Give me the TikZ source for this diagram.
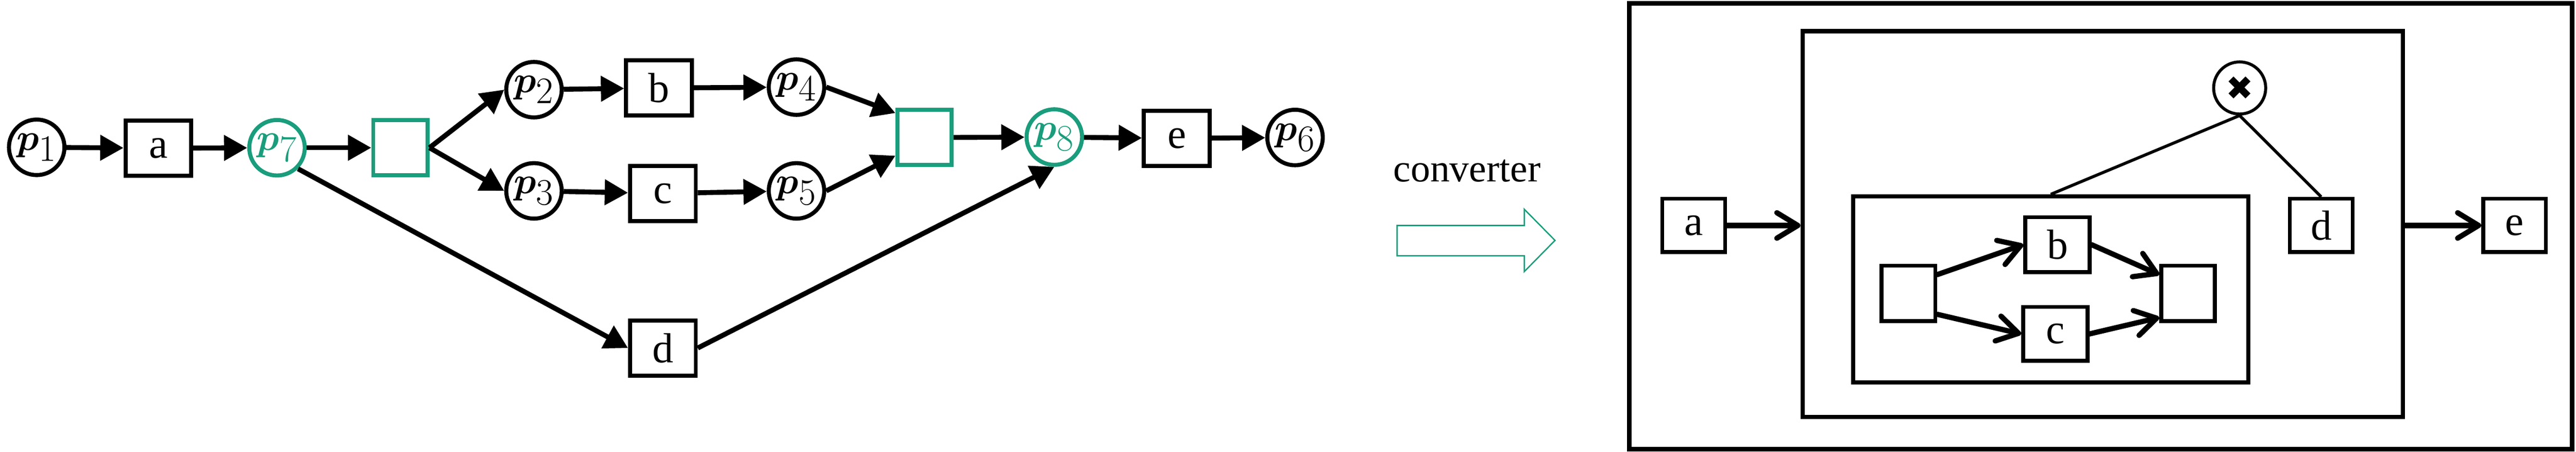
\documentclass[tikz,border=0pt]{standalone}
\usepackage{amsmath}
\usepackage{fontspec}
\setmainfont{Liberation Serif}
\newfontfamily\symfont{DejaVu Sans}
\usetikzlibrary{arrows.meta}
\definecolor{petrol}{RGB}{26,157,124}

\begin{document}
\begin{tikzpicture}
  [x=1cm,y=1cm,every node/.style={draw,line width=2.7pt,inner sep=0pt,font=\fontsize{28}{32}\selectfont}]

  \tikzstyle{place} = [circle,minimum size=1.30cm,font=\fontsize{33}{36}\selectfont]
  \tikzstyle{trans} = [rectangle,minimum width=1.54cm,minimum height=1.29cm]
  \tikzstyle{silent} = [trans,minimum width=1.27cm,draw=petrol]
  \tikzstyle{marked} = [place,draw=petrol,text=petrol]
  \tikzstyle{rtrans} = [rectangle,minimum width=1.47cm,minimum height=1.25cm,line width=2.6pt]
  \tikzstyle{frame} = [rectangle,line width=2.8pt]

  \useasboundingbox (0,0) rectangle (60.35,10.58);

  % petri net
  \node[place]  (p1) at (0.86,7.13) {$\boldsymbol{p}_1$};
  \node[trans]  (a)  at (3.71,7.11) {a};
  \node[marked] (p7) at (6.49,7.12) {$\boldsymbol{p}_7$};
  \node[silent] (t1) at (9.38,7.12) {};
  \node[place]  (p2) at (12.51,8.48) {$\boldsymbol{p}_2$};
  \node[trans]  (b)  at (15.44,8.52) {b};
  \node[place]  (p4) at (18.66,8.54) {$\boldsymbol{p}_4$};
  \node[place]  (p3) at (12.51,6.11) {$\boldsymbol{p}_3$};
  \node[trans]  (c)  at (15.53,6.05) {c};
  \node[place]  (p5) at (18.66,6.11) {$\boldsymbol{p}_5$};
  \node[silent] (t2) at (21.66,7.36) {};
  \node[marked] (p8) at (24.70,7.37) {$\boldsymbol{p}_8$};
  \node[trans]  (e)  at (27.57,7.34) {e};
  \node[place]  (p6) at (30.34,7.36) {$\boldsymbol{p}_6$};
  \node[trans]  (d)  at (15.53,2.43) {d};

  \path[->, >={Triangle[length=15.5pt,width=16.5pt]}, line width=3.3pt]
        (p1) edge (a)
        (a) edge (p7)
        (p7) edge (t1)
        (t1.east) edge (p2.west)
        (t1.east) edge (p3.west)
        (p2) edge (b)
        (b) edge (p4)
        (p3) edge (c)
        (c) edge (p5)
        (p4.east) edge (t2.140)
        (p5.east) edge (t2.212)
        (t2) edge (p8)
        (p8) edge (e)
        (e) edge (p6)
        (p7.south east) edge (d.west)
        (d.east) edge (p8.south);

  % converter
  \node[draw=none,anchor=base,font=\fontsize{26}{30}\selectfont] (conv) at (34.37,6.32) {converter};
  \draw[petrol,line width=0.9pt] (32.73,5.30) -- (35.71,5.30) -- (35.71,5.68) -- (36.43,4.95)
        -- (35.71,4.22) -- (35.71,4.59) -- (32.73,4.59) -- cycle;

  % process tree
  \node[frame,line width=3pt,minimum width=22.09cm,minimum height=10.44cm] (outer) at (49.215,5.28) {};
  \node[frame,minimum width=14.06cm,minimum height=9.03cm] (mid) at (49.26,5.335) {};
  \node[frame,minimum width=9.25cm,minimum height=4.36cm] (inner) at (48.045,3.80) {};

  \node[rtrans] (ra) at (39.68,5.30) {a};
  \node[rtrans] (rd) at (54.38,5.30) {d};
  \node[rtrans] (re) at (58.91,5.30) {e};
  \node[place,minimum size=1.22cm,line width=2pt,font=\fontsize{22}{24}\symfont] (xc) at (52.47,8.52) {✖};

  \node[rtrans,minimum width=1.26cm,minimum height=1.30cm] (lb) at (44.71,3.71) {};
  \node[rtrans,minimum width=1.51cm,minimum height=1.28cm] (rb) at (48.20,4.85) {b};
  \node[rtrans,minimum width=1.51cm,minimum height=1.26cm] (rc) at (48.15,2.76) {c};
  \node[rtrans,minimum width=1.26cm,minimum height=1.30cm] (rr) at (51.26,3.71) {};

  \path[line width=2pt]
        (xc.south) edge (inner.north)
        (xc.south) edge (rd.north);

  \path[-{Straight Barb[length=14pt,width=17pt,round]}, line width=3.5pt, line cap=round]
        (ra.east) edge (ra.east -| mid.west)
        (re.west -| mid.east) edge (re.west)
        (lb.33) edge (rb.west)
        (lb.-36) edge (rc.west)
        (rb.east) edge (rr.147)
        (rc.east) edge (rr.220);
\end{tikzpicture}
\end{document}
